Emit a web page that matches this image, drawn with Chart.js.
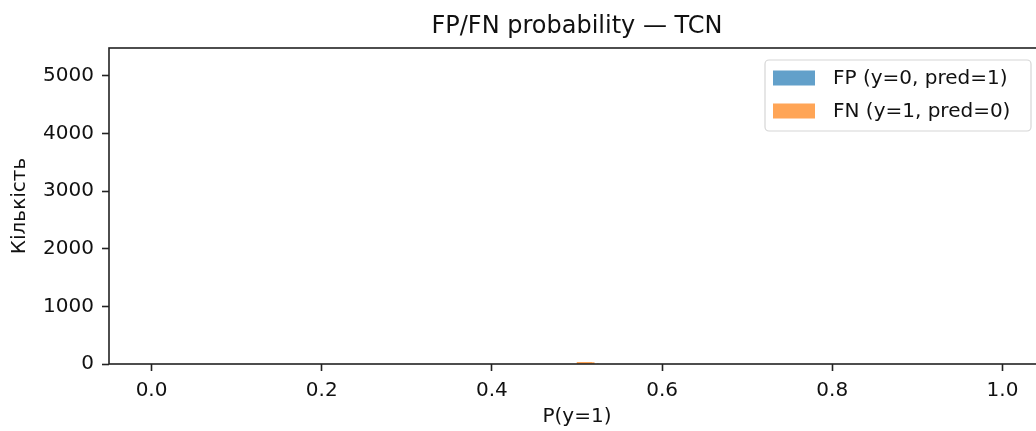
<!DOCTYPE html>
<html>
<head>
<meta charset="utf-8">
<script src="https://cdn.jsdelivr.net/npm/chart.js@4/dist/chart.umd.min.js"></script>
<style>
    html, body { margin: 0; padding: 0; background: #fff; overflow: hidden; }
    #wrap { width: 1154px; height: 431px; }
</style>
</head>
<body>
<div id="wrap"><canvas id="chart" width="1154" height="431"></canvas></div>
<script>
/* ---------- Données ---------- */
const titleText = "FP/FN probability — TCN";
const xLabel = "P(y=1)";
const yLabel = "Кількість";

const xTicks = [0.0, 0.2, 0.4, 0.6, 0.8, 1.0];
const yTicks = [0, 1000, 2000, 3000, 4000, 5000];

// FP : aucune barre visible
const fpEdges = [];
const fpCounts = [];

// FN : petit paquet autour de 0.5
const fnEdges = [0.4994, 0.5040, 0.5085, 0.5130, 0.5175, 0.5206, 0.5240, 0.5254];
const fnCounts = [34, 36, 33, 35, 32, 0, 14];

const seriesLabels = ["FP (y=0, pred=1)", "FN (y=1, pred=0)"];
const seriesColors = ["rgba(31,119,180,0.7)", "rgba(255,127,14,0.7)"];

/* ---------- Histogramme -> points en escalier ---------- */
function histPoints(edges, counts) {
    return edges.map((e, i) => ({ x: e, y: i < counts.length ? counts[i] : 0 }));
}

const FONT = "'DejaVu Sans', sans-serif";
const INK = "#111";

/* ---------- Cadre (spines) + légende façon matplotlib ---------- */
const framePlugin = {
    id: "frame",
    afterDatasetsDraw(chart) {
        const { ctx, chartArea: a } = chart;
        ctx.save();
        ctx.strokeStyle = "#222";
        ctx.lineWidth = 1.6;
        ctx.strokeRect(a.left, a.top, a.right - a.left, a.bottom - a.top);
        ctx.restore();
    },
    afterDraw(chart) {
        const { ctx, chartArea: a } = chart;
        const boxW = 266, boxH = 71;
        const bx = a.right - 14 - boxW, by = a.top + 12;

        ctx.save();
        ctx.beginPath();
        ctx.roundRect(bx, by, boxW, boxH, 4);
        ctx.fillStyle = "rgba(255,255,255,0.8)";
        ctx.fill();
        ctx.strokeStyle = "#d6d6d6";
        ctx.lineWidth = 1.2;
        ctx.stroke();

        ctx.font = "20px " + FONT;
        ctx.textBaseline = "middle";
        ctx.textAlign = "left";
        chart.data.datasets.forEach((ds, i) => {
            const cy = by + 17.5 + i * 33;
            ctx.fillStyle = ds.backgroundColor;
            ctx.fillRect(bx + 8, cy - 7, 42, 15);
            ctx.fillStyle = INK;
            ctx.fillText(ds.label, bx + 68, cy + 1);
        });
        ctx.restore();
    }
};

new Chart(document.getElementById("chart"), {
    type: "line",
    data: {
        datasets: [
            {
                label: seriesLabels[0],
                data: histPoints(fpEdges, fpCounts),
                backgroundColor: seriesColors[0],
                borderWidth: 0,
                pointRadius: 0,
                stepped: true,
                fill: "origin"
            },
            {
                label: seriesLabels[1],
                data: histPoints(fnEdges, fnCounts),
                backgroundColor: seriesColors[1],
                borderWidth: 0,
                pointRadius: 0,
                stepped: true,
                fill: "origin"
            }
        ]
    },
    options: {
        responsive: false,
        animation: false,
        layout: { padding: 0 },
        plugins: {
            legend: { display: false },
            tooltip: { enabled: false },
            title: {
                display: true,
                text: titleText,
                color: INK,
                font: { family: FONT, size: 24, weight: "normal" },
                padding: { top: 12.8, bottom: 6.4 }
            }
        },
        scales: {
            x: {
                type: "linear",
                min: -0.05,
                max: 1.05,
                afterBuildTicks: axis => { axis.ticks = xTicks.map(v => ({ value: v })); },
                afterFit: axis => { axis.height = 67; },
                ticks: {
                    autoSkip: false,
                    maxRotation: 0,
                    color: INK,
                    padding: 8,
                    font: { family: FONT, size: 20 },
                    callback: v => v.toFixed(1)
                },
                grid: { drawOnChartArea: false, tickLength: 7, tickWidth: 1.6, tickColor: "#222" },
                border: { display: false },
                title: {
                    display: true,
                    text: xLabel,
                    color: INK,
                    font: { family: FONT, size: 20 },
                    padding: { top: 0, bottom: 2 }
                }
            },
            y: {
                min: 0,
                max: 5486,
                afterBuildTicks: axis => { axis.ticks = yTicks.map(v => ({ value: v })); },
                afterFit: axis => { axis.width = 109; },
                ticks: {
                    color: INK,
                    padding: 8,
                    font: { family: FONT, size: 20 },
                    callback: v => String(v)
                },
                grid: { drawOnChartArea: false, tickLength: 7, tickWidth: 1.6, tickColor: "#222" },
                border: { display: false },
                title: {
                    display: true,
                    text: yLabel,
                    color: INK,
                    font: { family: FONT, size: 20 },
                    padding: { top: 8, bottom: 0 }
                }
            },
            // axe vide à droite : garde le titre centré sur la zone du graphe
            yPad: {
                position: "right",
                display: true,
                ticks: { display: false },
                grid: { display: false },
                border: { display: false },
                afterFit: axis => { axis.width = 109; }
            }
        }
    },
    plugins: [framePlugin]
});
</script>
</body>
</html>
